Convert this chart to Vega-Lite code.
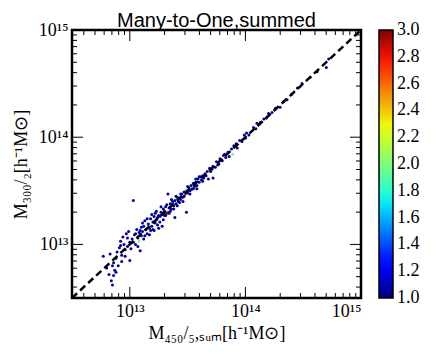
{
  "$schema": "https://vega.github.io/schema/vega-lite/v6.json",
  "autosize": {"type": "none"},
  "padding": {"left": 72, "top": 30, "right": 83, "bottom": 58},
  "width": 289,
  "height": 268,
  "background": "white",
  "title": {"text": "Many-to-One,summed", "font": "Liberation Sans", "fontSize": 20, "fontWeight": "normal", "color": "black", "frame": "group", "anchor": "middle", "offset": 4, "dy": 14},
  "config": {
    "view": {"stroke": "black", "strokeWidth": 2.5},
    "axis": {"domain": false, "grid": false, "ticks": false, "labelFont": "Liberation Serif", "labelFontSize": 18, "labelColor": "black", "titleFont": "Liberation Serif", "titleFontSize": 18, "titleFontWeight": "normal", "titleColor": "black"}
  },
  "datasets": {
    "halos": [
      {"m450": 5.89e12, "m300": 7.76e12, "ratio": 1.05},
      {"m450": 6.31e12, "m300": 6.03e12, "ratio": 1.1},
      {"m450": 6.61e12, "m300": 5.25e12, "ratio": 1.05},
      {"m450": 6.76e12, "m300": 8.13e12, "ratio": 1.05},
      {"m450": 6.92e12, "m300": 4.57e12, "ratio": 1.1},
      {"m450": 7.08e12, "m300": 4.17e12, "ratio": 1.05},
      {"m450": 7.08e12, "m300": 6.31e12, "ratio": 1.05},
      {"m450": 7.24e12, "m300": 5.13e12, "ratio": 1.1},
      {"m450": 7.24e12, "m300": 6.76e12, "ratio": 1.05},
      {"m450": 7.41e12, "m300": 7.41e12, "ratio": 2.0},
      {"m450": 7.41e12, "m300": 5.75e12, "ratio": 1.05},
      {"m450": 7.59e12, "m300": 7.41e12, "ratio": 1.1},
      {"m450": 7.76e12, "m300": 8.51e12, "ratio": 1.05},
      {"m450": 7.94e12, "m300": 6.31e12, "ratio": 1.05},
      {"m450": 8.13e12, "m300": 9.33e12, "ratio": 1.1},
      {"m450": 8.32e12, "m300": 1.07e13, "ratio": 1.05},
      {"m450": 8.32e12, "m300": 9.77e12, "ratio": 1.05},
      {"m450": 8.51e12, "m300": 7.94e12, "ratio": 1.1},
      {"m450": 8.71e12, "m300": 1.175e13, "ratio": 1.05},
      {"m450": 8.91e12, "m300": 1.0e13, "ratio": 1.05},
      {"m450": 9.12e12, "m300": 8.91e12, "ratio": 1.1},
      {"m450": 9.12e12, "m300": 7.76e12, "ratio": 1.05},
      {"m450": 9.33e12, "m300": 1.26e13, "ratio": 1.05},
      {"m450": 9.55e12, "m300": 9.55e12, "ratio": 1.05},
      {"m450": 9.77e12, "m300": 1.32e13, "ratio": 1.1},
      {"m450": 1.0e13, "m300": 7.08e12, "ratio": 1.05},
      {"m450": 1.0e13, "m300": 1.047e13, "ratio": 1.05},
      {"m450": 1.023e13, "m300": 9.12e12, "ratio": 1.1},
      {"m450": 1.047e13, "m300": 1.122e13, "ratio": 1.05},
      {"m450": 1.072e13, "m300": 2.57e13, "ratio": 1.05},
      {"m450": 1.072e13, "m300": 1.047e13, "ratio": 1.05},
      {"m450": 1.096e13, "m300": 1.23e13, "ratio": 1.1},
      {"m450": 1.122e13, "m300": 1.0e13, "ratio": 1.05},
      {"m450": 1.148e13, "m300": 1.38e13, "ratio": 1.05},
      {"m450": 1.175e13, "m300": 1.148e13, "ratio": 1.05},
      {"m450": 1.202e13, "m300": 1.288e13, "ratio": 1.1},
      {"m450": 1.202e13, "m300": 1.072e13, "ratio": 2.0},
      {"m450": 1.23e13, "m300": 8.71e12, "ratio": 1.05},
      {"m450": 1.259e13, "m300": 1.445e13, "ratio": 1.05},
      {"m450": 1.259e13, "m300": 1.202e13, "ratio": 1.05},
      {"m450": 1.288e13, "m300": 1.318e13, "ratio": 1.1},
      {"m450": 1.318e13, "m300": 1.479e13, "ratio": 1.05},
      {"m450": 1.318e13, "m300": 1.122e13, "ratio": 1.05},
      {"m450": 1.349e13, "m300": 1.66e13, "ratio": 1.05},
      {"m450": 1.38e13, "m300": 1.38e13, "ratio": 1.1},
      {"m450": 1.413e13, "m300": 1.259e13, "ratio": 1.05},
      {"m450": 1.445e13, "m300": 1.549e13, "ratio": 1.05},
      {"m450": 1.479e13, "m300": 1.413e13, "ratio": 1.05},
      {"m450": 1.514e13, "m300": 1.349e13, "ratio": 1.1},
      {"m450": 1.514e13, "m300": 1.738e13, "ratio": 1.05},
      {"m450": 1.549e13, "m300": 1.479e13, "ratio": 1.05},
      {"m450": 1.585e13, "m300": 1.622e13, "ratio": 1.05},
      {"m450": 1.585e13, "m300": 1.38e13, "ratio": 1.1},
      {"m450": 1.622e13, "m300": 1.82e13, "ratio": 1.05},
      {"m450": 1.66e13, "m300": 1.585e13, "ratio": 1.05},
      {"m450": 1.698e13, "m300": 2.042e13, "ratio": 1.05},
      {"m450": 1.698e13, "m300": 1.698e13, "ratio": 1.1},
      {"m450": 1.738e13, "m300": 1.514e13, "ratio": 1.05},
      {"m450": 1.778e13, "m300": 1.862e13, "ratio": 1.05},
      {"m450": 1.82e13, "m300": 1.82e13, "ratio": 1.05},
      {"m450": 1.82e13, "m300": 1.622e13, "ratio": 1.1},
      {"m450": 1.862e13, "m300": 1.995e13, "ratio": 1.05},
      {"m450": 1.905e13, "m300": 1.905e13, "ratio": 2.0},
      {"m450": 1.905e13, "m300": 1.479e13, "ratio": 1.05},
      {"m450": 1.95e13, "m300": 2.138e13, "ratio": 1.05},
      {"m450": 1.995e13, "m300": 1.862e13, "ratio": 1.1},
      {"m450": 1.995e13, "m300": 2.042e13, "ratio": 1.05},
      {"m450": 2.042e13, "m300": 2.239e13, "ratio": 1.05},
      {"m450": 2.089e13, "m300": 1.95e13, "ratio": 1.05},
      {"m450": 2.138e13, "m300": 2.951e13, "ratio": 1.05},
      {"m450": 2.138e13, "m300": 1.995e13, "ratio": 2.8},
      {"m450": 2.188e13, "m300": 2.188e13, "ratio": 1.1},
      {"m450": 2.239e13, "m300": 2.042e13, "ratio": 1.05},
      {"m450": 2.239e13, "m300": 2.399e13, "ratio": 1.05},
      {"m450": 2.291e13, "m300": 2.138e13, "ratio": 1.05},
      {"m450": 2.344e13, "m300": 2.512e13, "ratio": 1.1},
      {"m450": 2.399e13, "m300": 2.291e13, "ratio": 1.05},
      {"m450": 2.455e13, "m300": 1.778e13, "ratio": 1.05},
      {"m450": 2.455e13, "m300": 2.57e13, "ratio": 1.05},
      {"m450": 2.512e13, "m300": 2.399e13, "ratio": 1.1},
      {"m450": 2.57e13, "m300": 2.754e13, "ratio": 1.05},
      {"m450": 2.63e13, "m300": 2.512e13, "ratio": 1.05},
      {"m450": 2.692e13, "m300": 2.692e13, "ratio": 1.05},
      {"m450": 2.754e13, "m300": 2.63e13, "ratio": 1.1},
      {"m450": 2.818e13, "m300": 2.951e13, "ratio": 1.05},
      {"m450": 2.884e13, "m300": 2.754e13, "ratio": 1.05},
      {"m450": 2.951e13, "m300": 3.09e13, "ratio": 1.05},
      {"m450": 3.02e13, "m300": 2.951e13, "ratio": 2.8},
      {"m450": 3.09e13, "m300": 1.995e13, "ratio": 1.05},
      {"m450": 3.09e13, "m300": 3.236e13, "ratio": 2.0},
      {"m450": 3.162e13, "m300": 3.02e13, "ratio": 1.05},
      {"m450": 3.236e13, "m300": 3.388e13, "ratio": 1.05},
      {"m450": 3.311e13, "m300": 3.162e13, "ratio": 1.1},
      {"m450": 3.388e13, "m300": 3.548e13, "ratio": 1.05},
      {"m450": 3.467e13, "m300": 3.311e13, "ratio": 1.05},
      {"m450": 3.548e13, "m300": 3.715e13, "ratio": 1.05},
      {"m450": 3.631e13, "m300": 3.467e13, "ratio": 1.1},
      {"m450": 3.715e13, "m300": 3.802e13, "ratio": 1.05},
      {"m450": 3.802e13, "m300": 3.548e13, "ratio": 1.05},
      {"m450": 3.89e13, "m300": 4.074e13, "ratio": 1.05},
      {"m450": 3.981e13, "m300": 3.802e13, "ratio": 1.1},
      {"m450": 4.074e13, "m300": 4.266e13, "ratio": 1.05},
      {"m450": 4.169e13, "m300": 3.981e13, "ratio": 1.05},
      {"m450": 4.266e13, "m300": 4.365e13, "ratio": 1.05},
      {"m450": 4.365e13, "m300": 4.169e13, "ratio": 1.05},
      {"m450": 4.467e13, "m300": 4.571e13, "ratio": 1.1},
      {"m450": 4.571e13, "m300": 4.365e13, "ratio": 1.05},
      {"m450": 4.786e13, "m300": 4.074e13, "ratio": 1.05},
      {"m450": 4.898e13, "m300": 5.129e13, "ratio": 1.05},
      {"m450": 5.012e13, "m300": 4.786e13, "ratio": 1.1},
      {"m450": 5.248e13, "m300": 4.169e13, "ratio": 1.05},
      {"m450": 5.248e13, "m300": 5.37e13, "ratio": 1.05},
      {"m450": 5.495e13, "m300": 5.248e13, "ratio": 1.05},
      {"m450": 5.623e13, "m300": 5.888e13, "ratio": 1.1},
      {"m450": 5.888e13, "m300": 5.623e13, "ratio": 1.05},
      {"m450": 6.026e13, "m300": 6.31e13, "ratio": 1.05},
      {"m450": 6.31e13, "m300": 6.026e13, "ratio": 1.05},
      {"m450": 6.457e13, "m300": 6.761e13, "ratio": 1.1},
      {"m450": 6.761e13, "m300": 6.457e13, "ratio": 1.05},
      {"m450": 7.079e13, "m300": 7.244e13, "ratio": 1.05},
      {"m450": 7.244e13, "m300": 6.607e13, "ratio": 1.05},
      {"m450": 7.586e13, "m300": 7.762e13, "ratio": 1.1},
      {"m450": 7.762e13, "m300": 6.918e13, "ratio": 2.0},
      {"m450": 7.943e13, "m300": 8.318e13, "ratio": 1.05},
      {"m450": 8.318e13, "m300": 8.71e13, "ratio": 1.05},
      {"m450": 8.511e13, "m300": 7.943e13, "ratio": 1.05},
      {"m450": 8.913e13, "m300": 9.333e13, "ratio": 1.1},
      {"m450": 9.333e13, "m300": 9.12e13, "ratio": 1.05},
      {"m450": 9.772e13, "m300": 1.047e14, "ratio": 1.05},
      {"m450": 1.0e14, "m300": 9.772e13, "ratio": 1.05},
      {"m450": 1.023e14, "m300": 1.096e14, "ratio": 1.1},
      {"m450": 1.072e14, "m300": 1.047e14, "ratio": 1.05},
      {"m450": 1.122e14, "m300": 1.122e14, "ratio": 2.0},
      {"m450": 1.175e14, "m300": 1.23e14, "ratio": 1.05},
      {"m450": 1.23e14, "m300": 1.202e14, "ratio": 1.05},
      {"m450": 1.259e14, "m300": 1.349e14, "ratio": 1.05},
      {"m450": 1.349e14, "m300": 1.38e14, "ratio": 1.1},
      {"m450": 1.445e14, "m300": 1.479e14, "ratio": 1.05},
      {"m450": 1.514e14, "m300": 1.514e14, "ratio": 1.05},
      {"m450": 1.585e14, "m300": 1.66e14, "ratio": 1.05},
      {"m450": 1.698e14, "m300": 1.698e14, "ratio": 1.1},
      {"m450": 1.82e14, "m300": 1.862e14, "ratio": 1.05},
      {"m450": 1.995e14, "m300": 1.905e14, "ratio": 1.05},
      {"m450": 2.138e14, "m300": 2.138e14, "ratio": 1.05},
      {"m450": 2.291e14, "m300": 2.239e14, "ratio": 1.05},
      {"m450": 2.512e14, "m300": 2.512e14, "ratio": 1.1},
      {"m450": 2.818e14, "m300": 2.884e14, "ratio": 1.05},
      {"m450": 3.09e14, "m300": 3.162e14, "ratio": 1.05},
      {"m450": 3.631e14, "m300": 3.631e14, "ratio": 1.05},
      {"m450": 4.169e14, "m300": 4.074e14, "ratio": 1.05},
      {"m450": 5.012e14, "m300": 4.467e14, "ratio": 1.05},
      {"m450": 5.248e14, "m300": 5.37e14, "ratio": 1.05},
      {"m450": 1.288e13, "m300": 1.585e13, "ratio": 1.05},
      {"m450": 1.349e13, "m300": 1.202e13, "ratio": 1.05},
      {"m450": 1.413e13, "m300": 1.738e13, "ratio": 1.1},
      {"m450": 1.479e13, "m300": 1.23e13, "ratio": 1.05},
      {"m450": 1.549e13, "m300": 1.905e13, "ratio": 1.05},
      {"m450": 1.622e13, "m300": 1.349e13, "ratio": 1.05},
      {"m450": 1.66e13, "m300": 1.95e13, "ratio": 1.1},
      {"m450": 1.738e13, "m300": 1.778e13, "ratio": 1.05},
      {"m450": 1.778e13, "m300": 1.413e13, "ratio": 1.05},
      {"m450": 1.862e13, "m300": 2.239e13, "ratio": 1.05},
      {"m450": 1.95e13, "m300": 1.698e13, "ratio": 1.1},
      {"m450": 2.042e13, "m300": 1.862e13, "ratio": 1.05},
      {"m450": 2.089e13, "m300": 2.344e13, "ratio": 1.05},
      {"m450": 2.188e13, "m300": 1.95e13, "ratio": 1.05},
      {"m450": 2.291e13, "m300": 2.63e13, "ratio": 1.05},
      {"m450": 2.399e13, "m300": 2.138e13, "ratio": 1.1},
      {"m450": 2.512e13, "m300": 2.818e13, "ratio": 1.05},
      {"m450": 2.57e13, "m300": 2.291e13, "ratio": 1.05},
      {"m450": 2.692e13, "m300": 2.455e13, "ratio": 1.05},
      {"m450": 2.754e13, "m300": 2.951e13, "ratio": 1.1},
      {"m450": 2.884e13, "m300": 2.512e13, "ratio": 1.05},
      {"m450": 2.951e13, "m300": 2.818e13, "ratio": 1.05},
      {"m450": 3.162e13, "m300": 3.467e13, "ratio": 1.05},
      {"m450": 3.311e13, "m300": 2.951e13, "ratio": 1.1},
      {"m450": 3.388e13, "m300": 3.236e13, "ratio": 1.05},
      {"m450": 3.548e13, "m300": 3.311e13, "ratio": 1.05},
      {"m450": 3.715e13, "m300": 4.074e13, "ratio": 1.05},
      {"m450": 3.802e13, "m300": 3.311e13, "ratio": 1.05},
      {"m450": 3.981e13, "m300": 4.266e13, "ratio": 1.1},
      {"m450": 4.266e13, "m300": 3.89e13, "ratio": 1.05},
      {"m450": 4.677e13, "m300": 4.786e13, "ratio": 1.05},
      {"m450": 5.129e13, "m300": 5.012e13, "ratio": 1.05},
      {"m450": 5.754e13, "m300": 5.495e13, "ratio": 1.05},
      {"m450": 6.607e13, "m300": 6.918e13, "ratio": 1.05},
      {"m450": 9.55e12, "m300": 1.148e13, "ratio": 1.05},
      {"m450": 1.122e13, "m300": 1.259e13, "ratio": 1.05},
      {"m450": 1.175e13, "m300": 9.55e12, "ratio": 1.1},
      {"m450": 1.23e13, "m300": 1.349e13, "ratio": 1.05},
      {"m450": 8.51e12, "m300": 6.92e12, "ratio": 1.05},
      {"m450": 7.59e12, "m300": 5.5e12, "ratio": 1.05}
    ],
    "diagonal": [{"m": 3.1623e12}, {"m": 1e15}],
    "majorticks": [{"v": 1e13}, {"v": 1e14}],
    "minorticks": [
      {"v": 4e12}, {"v": 5e12}, {"v": 6e12}, {"v": 7e12}, {"v": 8e12}, {"v": 9e12},
      {"v": 2e13}, {"v": 3e13}, {"v": 4e13}, {"v": 5e13}, {"v": 6e13}, {"v": 7e13}, {"v": 8e13}, {"v": 9e13},
      {"v": 2e14}, {"v": 3e14}, {"v": 4e14}, {"v": 5e14}, {"v": 6e14}, {"v": 7e14}, {"v": 8e14}, {"v": 9e14}
    ]
  },
  "layer": [
    {
      "data": {"name": "halos"},
      "mark": {"type": "circle", "size": 9, "opacity": 1},
      "encoding": {
        "x": {"field": "m450", "type": "quantitative", "scale": {"type": "log", "domain": [3.1623e12, 1e15], "nice": false},
          "axis": {"orient": "bottom", "values": [1e13, 1e14, 1e15], "labelPadding": 4, "labelExpr": "datum.value >= 1e15 ? '10¹⁵' : datum.value >= 1e14 ? '10¹⁴' : '10¹³'", "title": "M₄₅₀/₅,ₛᵤₘ[h⁻¹M⊙]", "titlePadding": 4}},
        "y": {"field": "m300", "type": "quantitative", "scale": {"type": "log", "domain": [3.1623e12, 1e15], "nice": false},
          "axis": {"orient": "left", "values": [1e13, 1e14, 1e15], "labelPadding": 4, "labelExpr": "datum.value >= 1e15 ? '10¹⁵' : datum.value >= 1e14 ? '10¹⁴' : '10¹³'", "title": "M₃₀₀/₂[h⁻¹M⊙]", "titlePadding": 8}},
        "color": {"field": "ratio", "type": "quantitative",
          "scale": {"domain": [1.0, 1.22, 1.25, 1.68, 1.75, 2.0, 2.28, 2.78, 3.0], "range": ["#000080", "#0000ff", "#0000ff", "#00dbff", "#14ffe3", "#7bff7b", "#eeff08", "#ff1300", "#800000"], "interpolate": "rgb"},
          "legend": {"orient": "right", "offset": 18, "padding": 0, "title": null, "direction": "vertical", "gradientLength": 268, "gradientThickness": 14, "gradientStrokeColor": "black", "gradientStrokeWidth": 1.5, "values": [1.0001, 1.2, 1.4, 1.6, 1.8, 2.0, 2.2, 2.4, 2.6, 2.8, 2.9999], "format": ".1f", "labelFont": "Liberation Serif", "labelFontSize": 18, "labelColor": "black", "labelOffset": 4, "labelOverlap": false}}
      }
    },
    {
      "data": {"name": "diagonal"},
      "mark": {"type": "line", "color": "black", "strokeDash": [7, 4], "strokeWidth": 2.5, "clip": true},
      "encoding": {
        "x": {"field": "m", "type": "quantitative", "scale": {"type": "log", "domain": [3.1623e12, 1e15], "nice": false}},
        "y": {"field": "m", "type": "quantitative", "scale": {"type": "log", "domain": [3.1623e12, 1e15], "nice": false}}
      }
    },
    {
      "data": {"name": "majorticks"},
      "mark": {"type": "tick", "orient": "vertical", "thickness": 1, "size": 11, "yOffset": -5.5, "color": "black", "opacity": 1},
      "encoding": {
        "x": {"field": "v", "type": "quantitative", "scale": {"type": "log", "domain": [3.1623e12, 1e15], "nice": false}},
        "y": {"datum": 3.1623e12, "type": "quantitative"}
      }
    },
    {
      "data": {"name": "majorticks"},
      "mark": {"type": "tick", "orient": "vertical", "thickness": 1, "size": 11, "yOffset": 5.5, "color": "black", "opacity": 1},
      "encoding": {
        "x": {"field": "v", "type": "quantitative", "scale": {"type": "log", "domain": [3.1623e12, 1e15], "nice": false}},
        "y": {"datum": 1e15, "type": "quantitative"}
      }
    },
    {
      "data": {"name": "majorticks"},
      "mark": {"type": "tick", "orient": "horizontal", "thickness": 1, "size": 11, "xOffset": 5.5, "color": "black", "opacity": 1},
      "encoding": {
        "y": {"field": "v", "type": "quantitative", "scale": {"type": "log", "domain": [3.1623e12, 1e15], "nice": false}},
        "x": {"datum": 3.1623e12, "type": "quantitative"}
      }
    },
    {
      "data": {"name": "majorticks"},
      "mark": {"type": "tick", "orient": "horizontal", "thickness": 1, "size": 11, "xOffset": -5.5, "color": "black", "opacity": 1},
      "encoding": {
        "y": {"field": "v", "type": "quantitative", "scale": {"type": "log", "domain": [3.1623e12, 1e15], "nice": false}},
        "x": {"datum": 1e15, "type": "quantitative"}
      }
    },
    {
      "data": {"name": "minorticks"},
      "mark": {"type": "tick", "orient": "vertical", "thickness": 1, "size": 5, "yOffset": -2.5, "color": "black", "opacity": 1},
      "encoding": {
        "x": {"field": "v", "type": "quantitative", "scale": {"type": "log", "domain": [3.1623e12, 1e15], "nice": false}},
        "y": {"datum": 3.1623e12, "type": "quantitative"}
      }
    },
    {
      "data": {"name": "minorticks"},
      "mark": {"type": "tick", "orient": "vertical", "thickness": 1, "size": 5, "yOffset": 2.5, "color": "black", "opacity": 1},
      "encoding": {
        "x": {"field": "v", "type": "quantitative", "scale": {"type": "log", "domain": [3.1623e12, 1e15], "nice": false}},
        "y": {"datum": 1e15, "type": "quantitative"}
      }
    },
    {
      "data": {"name": "minorticks"},
      "mark": {"type": "tick", "orient": "horizontal", "thickness": 1, "size": 5, "xOffset": 2.5, "color": "black", "opacity": 1},
      "encoding": {
        "y": {"field": "v", "type": "quantitative", "scale": {"type": "log", "domain": [3.1623e12, 1e15], "nice": false}},
        "x": {"datum": 3.1623e12, "type": "quantitative"}
      }
    },
    {
      "data": {"name": "minorticks"},
      "mark": {"type": "tick", "orient": "horizontal", "thickness": 1, "size": 5, "xOffset": -2.5, "color": "black", "opacity": 1},
      "encoding": {
        "y": {"field": "v", "type": "quantitative", "scale": {"type": "log", "domain": [3.1623e12, 1e15], "nice": false}},
        "x": {"datum": 1e15, "type": "quantitative"}
      }
    }
  ]
}
